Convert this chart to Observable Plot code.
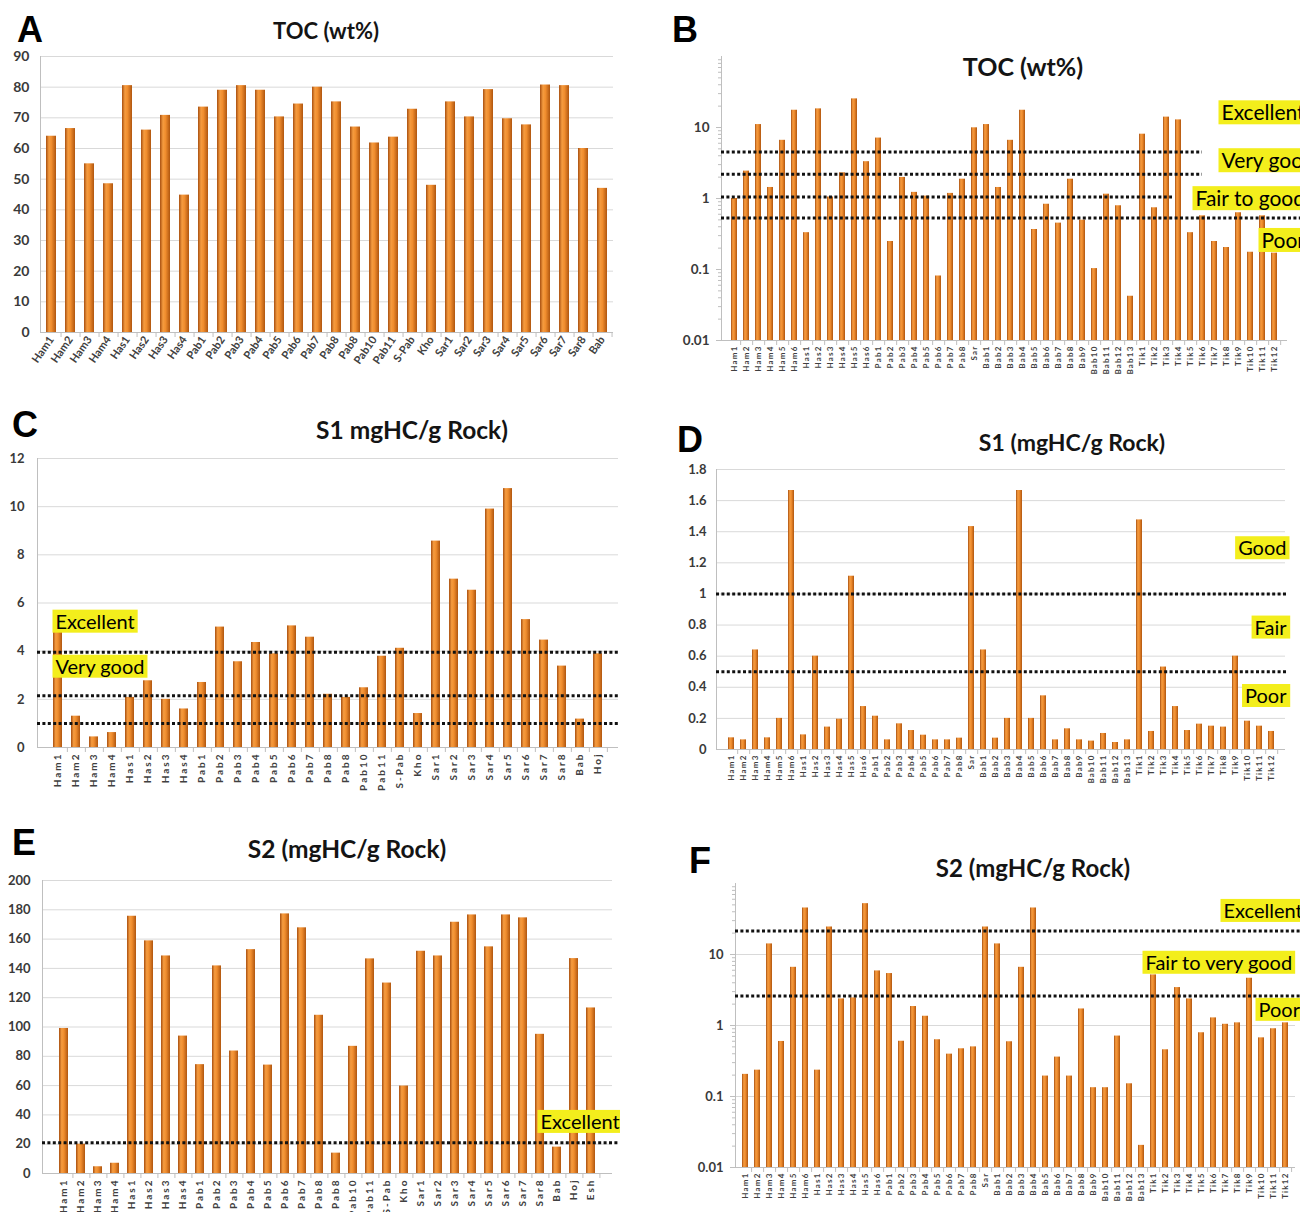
<!DOCTYPE html>
<html>
<head>
<meta charset="utf-8">
<script src="https://cdn.jsdelivr.net/npm/d3@7"></script>
<script src="https://cdn.jsdelivr.net/npm/@observablehq/plot@0.6"></script>
<style>
  html, body { margin: 0; padding: 0; background: #fff; }
  body { position: relative; width: 1309px; height: 1212px; overflow: hidden; font-family: Lato, "Open Sans", sans-serif; }
  .panel { position: absolute; }
  .letter { position: absolute; font: bold 36px "Liberation Sans", Arial, sans-serif; color: #000; line-height: 0.75; }
  .title { position: absolute; font-weight: bold; color: #141414; line-height: 1; white-space: nowrap; transform: translate(-50%, -50%); }
  [aria-label="x-axis tick label"] text { letter-spacing: var(--ls, 0px); }
</style>
</head>
<body>
<script>
const FONT = "Lato, 'Open Sans', sans-serif";

// ---- sample names -------------------------------------------------------
const samplesA = ["Ham1","Ham2","Ham3","Ham4","Has1","Has2","Has3","Has4","Pab1","Pab2","Pab3","Pab4","Pab5","Pab6","Pab7","Pab8","Pab8","Pab10","Pab11","S-Pab","Kho","Sar1","Sar2","Sar3","Sar4","Sar5","Sar6","Sar7","Sar8","Bab"];
const samplesC = [...samplesA, "Hoj"];
const samplesE = [...samplesC, "Esh"];
const samplesB = ["Ham1","Ham2","Ham3","Ham4","Ham5","Ham6","Has1","Has2","Has3","Has4","Has5","Has6","Pab1","Pab2","Pab3","Pab4","Pab5","Pab6","Pab7","Pab8","Sar","Bab1","Bab2","Bab3","Bab4","Bab5","Bab6","Bab7","Bab8","Bab9","Bab10","Bab11","Bab12","Bab13","Tik1","Tik2","Tik3","Tik4","Tik5","Tik6","Tik7","Tik8","Tik9","Tik10","Tik11","Tik12"];

// ---- measured values ----------------------------------------------------
const tocA = [64,66.5,55,48.5,80.5,66,70.8,44.8,73.5,79,80.5,79,70.3,74.5,80,75.2,67,61.8,63.7,72.8,48,75.2,70.3,79.2,69.7,67.7,80.7,80.5,60,47];
const tocB = [1.0,2.43,11,1.43,6.6,17.5,0.33,18.3,1.05,2.3,25.3,3.3,7.1,0.248,1.98,1.22,1.08,0.081,1.18,1.87,9.9,11,1.43,6.6,17.5,0.366,0.83,0.45,1.87,0.495,0.103,1.15,0.79,0.042,8.05,0.74,14,12.8,0.33,0.57,0.248,0.204,0.63,0.175,0.57,0.17];
const s1C = [5.22,1.3,0.44,0.62,2.08,2.77,2.0,1.6,2.7,5.0,3.56,4.36,3.89,5.05,4.58,2.21,2.08,2.48,3.79,4.12,1.41,8.57,6.99,6.53,9.9,10.75,5.31,4.46,3.38,1.18,3.89];
const s1D = [0.075,0.062,0.64,0.075,0.2,1.665,0.094,0.60,0.144,0.195,1.114,0.276,0.214,0.062,0.165,0.122,0.092,0.062,0.062,0.073,1.433,0.64,0.073,0.2,1.665,0.2,0.345,0.062,0.133,0.062,0.054,0.103,0.045,0.062,1.476,0.116,0.53,0.276,0.122,0.163,0.15,0.144,0.60,0.182,0.15,0.116];
const s2E = [99,20,4.6,7,175.6,158.8,148.5,93.8,74.3,141.7,83.6,152.8,74,177.2,167.7,108,13.9,86.8,146.5,130,59.7,151.7,148.5,171.5,176.5,154.7,176.5,174.5,95,18,146.7,113];
const s2F = [0.205,0.235,14.1,0.596,6.6,45.2,0.235,24.4,2.37,2.45,52,5.87,5.39,0.6,1.85,1.35,0.63,0.395,0.47,0.5,24.4,14.1,0.59,6.6,45.2,0.194,0.359,0.194,1.71,0.133,0.133,0.71,0.151,0.0205,5.16,0.455,3.42,2.37,0.79,1.28,1.04,1.09,4.63,0.67,0.9,1.09];

// ---- axis ticks ---------------------------------------------------------
const ticksA = [0,10,20,30,40,50,60,70,80,90];
const ticksC = [0,2,4,6,8,10,12];
const ticksD = [0,0.2,0.4,0.6,0.8,1,1.2,1.4,1.6,1.8];
const ticksE = [0,20,40,60,80,100,120,140,160,180,200];
const ticksLog = [0.01,0.1,1,10];
const ticksLogGrid = [0.1,1,10];
const minorLog = [];
for (const decade of [0.01,0.1,1,10]) for (let k = 2; k <= 9; ++k) minorLog.push(+(k * decade).toPrecision(3));

// ---- quality thresholds (dotted lines) and their labels -----------------
const limitsB = [4.5, 2.2, 1.05, 0.53];
const limitsC = [3.95, 2.15, 1.0];
const limitsD = [1.0, 0.5];
const limitsE = [21];
const limitsF = [21.5, 2.6];

const gradesB = ["Excellent", "Very good", "Fair to good", "Poor"];
const gradesBAt = [15.7, 3.32, 0.97, 0.25];
const gradesC = ["Excellent", "Very good"];
const gradesCAt = [5.2, 3.33];
const gradesD = ["Good", "Fair", "Poor"];
const gradesDAt = [1.29, 0.78, 0.34];
const gradesE = ["Excellent"];
const gradesEAt = [34.8];
const gradesF = ["Excellent", "Fair to very good", "Poor"];
const gradesFAt = [40.3, 7.5, 1.63];

// ---- panel layout (page pixels) -----------------------------------------
const panels = [
  {id: "A", title: "TOC (wt%)", titleAt: [326, 31, 22], letterAt: [17, 30],
   names: samplesA, values: tocA, domain: [0, 90], ticks: ticksA, grid: ticksA.slice(1),
   left: 0, top: 40, width: 620, height: 345, fl: 40, fr: 613, yt: 56, yb: 332,
   rotate: -55, xFont: 11, ls: 0, yFont: 14, yPad: 11, gradeFont: 20,
   limits: [], limitEnds: [], grades: [], gradesAt: [], gradeDx: [], gradeAnchor: "right", gradeText: "start"},
  {id: "B", title: "TOC (wt%)", titleAt: [1023, 66, 25], letterAt: [672, 30],
   names: samplesB, values: tocB, domain: [0.01, 100], log: true, ticks: ticksLog, grid: null,
   left: 660, top: 40, width: 640, height: 345, fl: 721, fr: 1287, yt: 56, yb: 340,
   rotate: -90, xFont: 8, ls: 1.2, yFont: 13.5, yPad: 7, gradeFont: 21,
   limits: limitsB, limitEnds: [1202, 1202, 1172, 1300],
   grades: gradesB, gradesAt: gradesBAt, gradeDx: [-66, -66, -92, -26], gradeAnchor: "right", gradeText: "start"},
  {id: "C", title: "S1 mgHC/g Rock)", titleAt: [412, 430, 24.5], letterAt: [12, 425],
   names: samplesC, values: s1C, domain: [0, 12], ticks: ticksC, grid: ticksC.slice(1),
   left: 0, top: 445, width: 620, height: 355, fl: 37, fr: 618, yt: 458, yb: 747,
   rotate: -90, xFont: 10, ls: 2, yFont: 13, yPad: 13, gradeFont: 20,
   limits: limitsC, limitEnds: [618, 618, 618],
   grades: gradesC, gradesAt: gradesCAt, gradeDx: [18, 18], gradeAnchor: "left", gradeText: "start"},
  {id: "D", title: "S1 (mgHC/g Rock)", titleAt: [1072, 442, 23], letterAt: [677, 440],
   names: samplesB, values: s1D, domain: [0, 1.8], ticks: ticksD, grid: ticksD.slice(1),
   left: 660, top: 455, width: 640, height: 340, fl: 716, fr: 1285, yt: 469, yb: 749,
   rotate: -90, xFont: 8, ls: 1.2, yFont: 13, yPad: 10, gradeFont: 20,
   limits: limitsD, limitEnds: [1288, 1288],
   grades: gradesD, gradesAt: gradesDAt, gradeDx: [1, 1, 1], gradeAnchor: "right", gradeText: "end"},
  {id: "E", title: "S2 (mgHC/g Rock)", titleAt: [347, 849, 24.5], letterAt: [12, 843],
   names: samplesE, values: s2E, domain: [0, 200], ticks: ticksE, grid: ticksE.slice(1),
   left: 0, top: 865, width: 620, height: 347, fl: 42, fr: 612, yt: 880, yb: 1173,
   rotate: -90, xFont: 10, ls: 2, yFont: 13, yPad: 12, gradeFont: 20,
   limits: limitsE, limitEnds: [618],
   grades: gradesE, gradesAt: gradesEAt, gradeDx: [-72], gradeAnchor: "right", gradeText: "start"},
  {id: "F", title: "S2 (mgHC/g Rock)", titleAt: [1033, 868, 24], letterAt: [689, 861],
   names: samplesB, values: s2F, domain: [0.01, 100], log: true, ticks: ticksLog, grid: ticksLogGrid,
   left: 660, top: 875, width: 640, height: 337, fl: 735, fr: 1295, yt: 883, yb: 1167,
   rotate: -90, xFont: 8, ls: 1.2, yFont: 13, yPad: 7, gradeFont: 20,
   limits: limitsF, limitEnds: [1300, 1300],
   grades: gradesF, gradesAt: gradesFAt, gradeDx: [-72, -150, -37], gradeAnchor: "right", gradeText: "start"}
];

function drawPanel(p) {
  const n = p.names.length;
  const step = (p.fr - p.fl) / n;
  const rows = p.names.map((name, i) => ({i, name, v: p.values[i]}));
  const base = p.domain[0];
  const gid = "bar-fill-" + p.id;
  const axisGray = "#bfbfbf";

  const marks = [];
  if (p.grid) marks.push(Plot.ruleY(p.grid, {stroke: "#d9d9d9", strokeWidth: 1}));
  marks.push(
    Plot.ruleY([base], {stroke: axisGray}),
    Plot.frame({anchor: "left", stroke: axisGray}),
    // category separators below the horizontal axis
    Plot.ruleX(d3.range(n), {x: (d) => d, y1: () => base, y2: () => base, insetBottom: -5, dx: step / 2, stroke: axisGray}),
    Plot.barY(rows, {x: "i", y1: () => base, y2: "v", fill: `url(#${gid})`}),
    ...p.limits.map((v, k) => Plot.ruleY([v], {
      stroke: "#111", strokeWidth: 3, strokeDasharray: "3,2.4", insetRight: p.fr - p.limitEnds[k]
    })),
    Plot.axisY({
      ticks: p.ticks, tickFormat: (d) => String(d), tickSize: p.log ? 5 : 0, tickPadding: p.yPad,
      stroke: axisGray, fill: "#3a3a3a", fontSize: p.yFont, fontWeight: "bold", label: null
    })
  );
  if (p.log) marks.push(Plot.axisY({ticks: minorLog, tickSize: 3, stroke: axisGray, fill: "none", label: null}));
  marks.push(Plot.axisX({
    tickFormat: (i) => p.names[i], tickRotate: p.rotate, tickSize: 0, tickPadding: 5,
    fontSize: p.xFont, fontWeight: "bold", fill: "#404040", label: null
  }));
  p.grades.forEach((g, k) => marks.push(Plot.text([g], {
    frameAnchor: p.gradeAnchor, y: () => p.gradesAt[k], text: (d) => d,
    dx: p.gradeDx[k], textAnchor: p.gradeText, fontSize: p.gradeFont, fill: "#000", fontFamily: FONT
  })));

  const svg = Plot.plot({
    width: p.width, height: p.height,
    marginLeft: p.fl - p.left, marginRight: p.left + p.width - p.fr,
    marginTop: p.yt - p.top, marginBottom: p.top + p.height - p.yb,
    style: {fontFamily: FONT, background: "transparent", overflow: "hidden"},
    x: {domain: d3.range(n), paddingInner: 0.5, paddingOuter: 0.25},
    y: {type: p.log ? "log" : "linear", domain: p.domain},
    marks
  });

  const holder = document.createElement("div");
  holder.className = "panel";
  holder.style.left = p.left + "px";
  holder.style.top = p.top + "px";
  holder.style.setProperty("--ls", p.ls + "px");
  holder.append(svg);
  document.body.append(holder);

  // cylinder-like shading of the bars
  const s = d3.select(svg);
  const grad = s.insert("defs", ":first-child").append("linearGradient")
    .attr("id", gid).attr("x1", 0).attr("x2", 1).attr("y1", 0).attr("y2", 0);
  [[0, "#a84f10"], [0.3, "#f59c40"], [0.55, "#f08d2e"], [1, "#b0560f"]]
    .forEach(([o, c]) => grad.append("stop").attr("offset", o).attr("stop-color", c));

  // yellow highlight boxes behind the quality labels
  s.selectAll('g[aria-label="text"] text').each(function () {
    const b = this.getBBox();
    const node = this;
    d3.select(this.parentNode).insert("rect", () => node)
      .attr("x", b.x - 3).attr("y", b.y + 1)
      .attr("width", b.width + 6).attr("height", b.height - 1)
      .attr("fill", "#f3ee1c")
      .attr("transform", this.getAttribute("transform"));
  });

  const letter = document.createElement("div");
  letter.className = "letter";
  letter.textContent = p.id;
  letter.style.left = p.letterAt[0] + "px";
  letter.style.top = (p.letterAt[1] - 14) + "px";
  document.body.append(letter);

  const title = document.createElement("div");
  title.className = "title";
  title.textContent = p.title;
  title.style.left = p.titleAt[0] + "px";
  title.style.top = p.titleAt[1] + "px";
  title.style.fontSize = p.titleAt[2] + "px";
  document.body.append(title);
}

panels.forEach(drawPanel);
</script>
</body>
</html>
